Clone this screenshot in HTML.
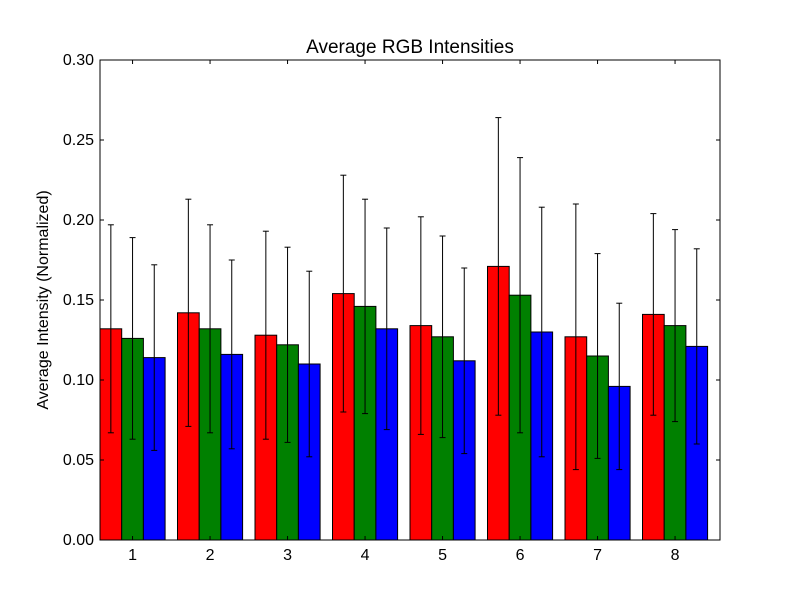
<!DOCTYPE html>
<html><head><meta charset="utf-8"><style>body{margin:0;background:#fff}svg{display:block}text{font-family:"Liberation Sans",sans-serif}</style></head>
<body>
<svg id="chart" width="800" height="600"></svg>
<script>
const categories=[1,2,3,4,5,6,7,8];
const redValues=[0.132,0.142,0.128,0.154,0.134,0.171,0.127,0.141];
const greenValues=[0.126,0.132,0.122,0.146,0.127,0.153,0.115,0.134];
const blueValues=[0.114,0.116,0.110,0.132,0.112,0.130,0.096,0.121];
const redErr=[0.065,0.071,0.065,0.074,0.068,0.093,0.083,0.063];
const greenErr=[0.063,0.065,0.061,0.067,0.063,0.086,0.064,0.060];
const blueErr=[0.058,0.059,0.058,0.063,0.058,0.078,0.052,0.061];
const yTicks=[0,0.05,0.10,0.15,0.20,0.25,0.30];
const yTickLabels=["0.00","0.05","0.10","0.15","0.20","0.25","0.30"];

const NS="http://www.w3.org/2000/svg";
const svg=document.getElementById('chart');
const L=100,R=720,T=60,B=540;
const xMin=0.58,xMax=8.58,yMax=0.30;
const xs=v=>L+(v-xMin)/(xMax-xMin)*(R-L);
const ys=v=>B-v/yMax*(B-T);
function mk(tag,attrs,parent){const e=document.createElementNS(NS,tag);for(const k in attrs)e.setAttribute(k,attrs[k]);(parent||svg).appendChild(e);return e;}
const series=[{v:redValues,e:redErr,c:"#ff0000",o:-0.42,n:"red"},{v:greenValues,e:greenErr,c:"#008000",o:-0.14,n:"green"},{v:blueValues,e:blueErr,c:"#0000ff",o:0.14,n:"blue"}];
const w=0.28;
series.forEach(s=>{
  categories.forEach((c,i)=>{
    const x0=xs(c+s.o),x1=xs(c+s.o+w);
    const r=mk('rect',{x:x0,y:ys(s.v[i]),width:x1-x0,height:ys(0)-ys(s.v[i]),fill:s.c,stroke:"#000","stroke-width":1});
    
    
  });
});
series.forEach(s=>{
  categories.forEach((c,i)=>{
    const xc=xs(c+s.o+w/2),yt=ys(s.v[i]+s.e[i]),yb=ys(s.v[i]-s.e[i]);
    const g=mk('g',{stroke:"#000","stroke-width":1});
    
    
    mk('line',{x1:xc,x2:xc,y1:yt,y2:yb},g);
    mk('line',{x1:xc-3,x2:xc+3,y1:yt,y2:yt},g);
    mk('line',{x1:xc-3,x2:xc+3,y1:yb,y2:yb},g);
  });
});
const frame=mk('rect',{x:L,y:T,width:R-L,height:B-T,fill:"none",stroke:"#000","stroke-width":1});


yTicks.forEach((t,i)=>{
  const y=ys(t);
  mk('line',{x1:L,x2:L+4,y1:y,y2:y,stroke:"#000"});
  mk('line',{x1:R,x2:R-4,y1:y,y2:y,stroke:"#000"});
  const tx=mk('text',{x:L-6,y:y+5,"text-anchor":"end","font-size":16});
  tx.textContent=yTickLabels[i];
  
  
});
categories.forEach(c=>{
  const x=xs(c);
  mk('line',{x1:x,x2:x,y1:B,y2:B-4,stroke:"#000"});
  mk('line',{x1:x,x2:x,y1:T,y2:T+4,stroke:"#000"});
  const tx=mk('text',{x:x,y:B+20,"text-anchor":"middle","font-size":16});
  tx.textContent=c;
  
  
});
const title=mk('text',{x:410,y:53,"text-anchor":"middle","font-size":19});
title.textContent="Average RGB Intensities";


const yl=mk('text',{x:0,y:0,"text-anchor":"middle","font-size":16,transform:"translate(48,300) rotate(-90)"});
yl.textContent="Average Intensity (Normalized)";


</script>
</body></html>
